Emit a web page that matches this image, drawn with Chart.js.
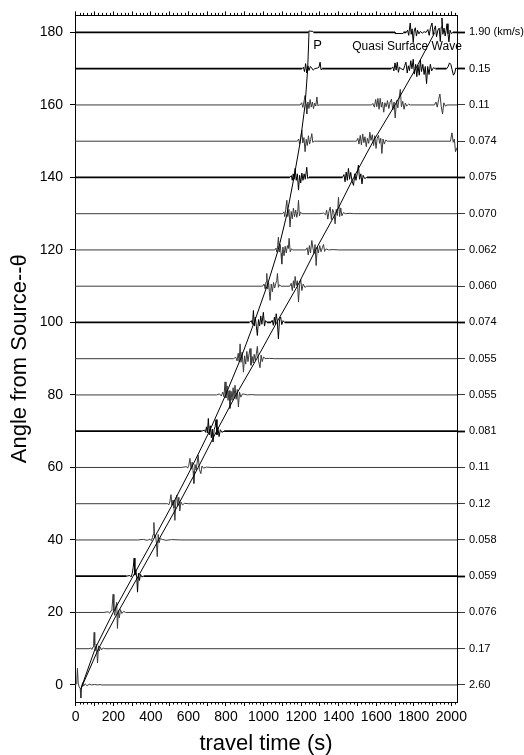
<!DOCTYPE html>
<html>
<head>
<meta charset="utf-8">
<title>Seismogram section</title>
<script src="https://cdn.jsdelivr.net/npm/chart.js@4.4.0/dist/chart.umd.min.js"></script>
<style>
  html, body { margin: 0; padding: 0; background: #fff; }
  #wrap { width: 524px; height: 755px; }
</style>
</head>
<body>
<div id="wrap"><canvas id="sectionChart"></canvas></div>
<script>
// Trace distances (degrees from source)
const angles = [0, 10, 20, 30, 40, 50, 60, 70, 80, 90, 100, 110, 120, 130, 140, 150, 160, 170, 180];

// Peak amplitude written at the right end of each trace
const ampLabels = ['2.60', '0.17', '0.076', '0.059', '0.058', '0.12', '0.11', '0.081', '0.055', '0.055',
                   '0.074', '0.060', '0.062', '0.070', '0.075', '0.074', '0.11', '0.15', '1.90 (km/s)'];

// Tick labels
const angleTicks = [0, 20, 40, 60, 80, 100, 120, 140, 160, 180];
const timeTicks = [0, 200, 400, 600, 800, 1000, 1200, 1400, 1600, 1800, 2000];

// Travel-time curves (P and quasi surface wave)
const curveAngles = [-1, 10, 20, 30, 40, 50, 60, 70, 80, 90, 100, 110, 120, 130, 140, 150, 160, 170, 180];
const pTimes = [28, 103, 199, 305, 412, 517, 617, 712, 798, 878, 950, 1018, 1078, 1125, 1162, 1196, 1221, 1235, 1242];
const sTimes = [28, 121, 224, 333, 441, 549, 652, 750, 853, 964, 1070, 1180, 1277, 1383, 1480, 1584, 1700, 1810, 1912];

// Wiggles: [travel time (s), deflection (deg)] per trace
const trace0 = [[-4,0],[0,0],[5,0.3],[9,4.6],[13,0.5],[18,-0.5],[24,-1],[27,-3.6],[31,-0.8],[36,0.6],[42,-0.3],[50,0.3],[60,-0.2],[72,0.2],[85,0],[100,0.15],[115,0],[130,0.1],[140,0],[2030,0]];
const trace10 = [[-4,0],[70,0],[80,0.2],[86,-0.2],[92,0.5],[95,1.5],[98,4.5],[101,1],[105,-0.5],[110,1.2],[116,-3.9],[121,0.8],[126,-0.6],[131,0.4],[138,-0.3],[146,0.2],[155,0],[2030,0]];
const trace20 = [[-4,0],[150,0],[172,0.2],[180,-0.2],[188,0.5],[193,1.2],[199,5],[203,0.5],[208,-0.8],[213,1.5],[218,2.8],[222,-4.4],[227,0.5],[232,-1.5],[238,0.8],[245,-0.3],[255,0.3],[265,0],[2030,0]];
const trace30 = [[-4,0],[270,0],[288,0.2],[295,-0.2],[301,0.8],[306,2.5],[311,5],[315,0.3],[320,1.8],[325,-0.5],[329,-4.4],[334,0.8],[339,-1.2],[345,0.5],[352,-0.2],[362,0],[2030,0]];
const trace40 = [[-4,0],[330,0],[360,0.15],[380,-0.1],[395,0.2],[402,-0.2],[408,0.6],[412,1.5],[416,4.8],[420,0.5],[425,1.2],[430,-1],[434,-4.6],[439,1.5],[444,-0.8],[450,0.4],[460,0.15],[480,-0.1],[510,0.1],[560,0],[2030,0]];
const trace50 = [[-4,0],[490,0],[496,-0.3],[501,0.5],[507,2.5],[512,-0.5],[518,1],[523,-1.2],[528,-4.6],[533,1],[538,2.4],[543,-0.6],[549,1.8],[554,-2],[560,0.5],[568,-0.3],[580,0.1],[600,0],[2030,0]];
const trace60 = [[-4,0],[560,0],[590,0.2],[596,-0.2],[602,0.6],[608,2.5],[614,-0.5],[620,1.5],[625,-1],[629,-4.4],[635,0.8],[641,-0.7],[646,1.2],[652,3.4],[658,-0.5],[666,-1.7],[672,0.4],[680,-0.2],[695,0.1],[720,0],[2030,0]];
const trace70 = [[-4,0],[670,0],[686,0.3],[691,-0.3],[696,1.2],[701,-0.5],[706,3.5],[711,-1],[716,1.5],[722,-1.8],[727,0.6],[731,-3],[737,0.5],[742,1.2],[747,3.2],[752,-1],[757,1],[763,-1.5],[770,0.4],[778,-0.3],[790,0],[2030,0]];
const trace80 = [[-4,0],[750,0],[765,0.3],[775,-0.3],[783,0.8],[789,-0.5],[795,3.6],[800,-0.8],[806,2.5],[811,-1.5],[816,1.2],[821,-3.7],[827,1],[832,-1.5],[838,2],[843,-1],[848,2.7],[854,-1.2],[860,1.5],[866,-3.3],[872,0.8],[879,-0.6],[888,0.3],[900,0.15],[915,0],[935,0.1],[960,0],[2030,0]];
const trace90 = [[-4,0],[840,0],[852,0.4],[859,-0.6],[865,1.5],[870,-0.8],[875,4.1],[880,-1],[886,1.8],[893,-3.7],[899,0.8],[905,-1.5],[911,2],[917,-0.8],[922,1],[928,2.8],[933,-1.8],[939,0.6],[945,-1.2],[950,1.2],[956,-0.5],[962,1.5],[967,3.4],[973,-0.6],[981,-2.5],[987,1],[993,-0.8],[1000,0.5],[1008,0],[1030,0.1],[1060,0],[2030,0]];
const trace100 = [[-4,0],[925,0],[935,0.5],[941,-0.5],[946,3.3],[951,-1],[956,1.5],[962,-1.2],[967,-3.6],[973,0.8],[979,-1],[985,1.8],[991,-0.5],[999,2.8],[1005,-1],[1011,0.5],[1018,0],[1040,0],[1046,0.6],[1052,-0.8],[1058,1.5],[1063,-0.5],[1067,2.4],[1073,0.5],[1079,-4.5],[1085,0.8],[1091,1.5],[1097,-0.6],[1104,0.5],[1112,0],[2030,0]];
const trace110 = [[-4,0],[995,0],[1003,0.6],[1009,-0.8],[1013,1.2],[1017,3.5],[1022,-0.8],[1027,1],[1031,-1.5],[1035,-3.9],[1041,0.6],[1047,-1.5],[1053,1],[1059,-0.5],[1065,0.8],[1070,1.5],[1074,3.5],[1079,-0.3],[1085,0.4],[1092,0],[1140,0],[1147,0.8],[1153,-1.2],[1159,1.5],[1164,-0.5],[1168,2.7],[1174,0.2],[1180,1.5],[1186,-4.3],[1192,0.5],[1198,1.8],[1204,-1.2],[1211,0.6],[1220,-0.3],[1230,0],[2030,0]];
const trace120 = [[-4,0],[1060,0],[1066,0.5],[1071,-0.6],[1075,1.2],[1079,3.5],[1084,-0.6],[1089,1.5],[1093,-1],[1097,-3.9],[1103,0.8],[1109,-1.6],[1115,1],[1121,-0.8],[1127,1.2],[1132,0.4],[1136,3.2],[1142,-0.5],[1149,0.3],[1156,0],[1225,0],[1232,0.6],[1238,-1.4],[1244,1.2],[1250,-0.8],[1257,2.6],[1263,0.5],[1269,-1],[1274,1.5],[1280,-4.3],[1286,0.8],[1292,-0.8],[1299,1.2],[1306,-0.5],[1313,0.6],[1319,1.5],[1325,-0.4],[1333,0.3],[1345,0],[1370,0.1],[1400,0],[2030,0]];
const trace130 = [[-4,0],[1100,0],[1108,0.5],[1113,-0.8],[1118,1.2],[1124,3.7],[1129,-0.8],[1135,1.2],[1141,-3.7],[1147,0.6],[1153,-1.4],[1159,1.5],[1165,-0.8],[1171,1],[1177,-1],[1182,0.6],[1186,3.7],[1191,-0.6],[1197,0.4],[1205,0],[1300,0],[1320,0.15],[1330,-0.3],[1336,1],[1342,-1.5],[1348,0.5],[1355,1.8],[1361,-1.6],[1368,1.2],[1374,0.3],[1381,-2.8],[1387,1.2],[1393,-0.5],[1399,4.5],[1405,-0.8],[1411,1.6],[1417,-0.6],[1425,0.3],[1435,0],[1460,0.1],[1480,0],[2030,0]];
const trace140 = [[-4,0],[1140,0],[1148,0.5],[1153,-0.8],[1158,1],[1163,-0.5],[1168,2.5],[1174,-0.8],[1180,1],[1186,-3.5],[1192,0.6],[1198,-1.5],[1204,1.2],[1210,-0.8],[1216,1],[1222,-0.5],[1230,2.8],[1235,-0.3],[1242,0],[1420,0],[1428,0.8],[1434,-1.2],[1440,1.5],[1446,-0.8],[1452,2.5],[1458,-0.5],[1464,1.4],[1471,-1],[1479,-2.2],[1486,1],[1492,-0.8],[1499,1.2],[1505,3.4],[1511,-0.5],[1518,1],[1524,-1.8],[1530,0.6],[1538,-0.3],[1550,0],[2030,0]];
const trace150 = [[-4,0],[1180,0],[1187,0.6],[1192,-0.8],[1198,1],[1204,3],[1209,-0.5],[1215,1],[1221,-2.9],[1227,0.5],[1233,-1.2],[1239,1.5],[1245,-0.8],[1251,0.5],[1257,2.1],[1262,-0.3],[1270,0],[1495,0],[1502,0.8],[1508,-0.8],[1515,1.6],[1521,-1],[1528,2],[1534,-0.4],[1540,1.2],[1547,-1.5],[1553,0.8],[1560,-0.6],[1566,2.5],[1572,0.2],[1579,1.8],[1586,-1.2],[1592,1.5],[1599,-2],[1605,0.8],[1612,1.6],[1618,-0.6],[1624,0.8],[1630,-3.4],[1636,0.6],[1643,-0.8],[1650,0.3],[1660,0],[1995,0],[2003,2.3],[2010,-0.3],[2016,0.6],[2022,-2.9],[2030,-1.8]];
const trace160 = [[-4,0],[1195,0],[1203,0.6],[1209,-0.7],[1215,0.8],[1221,2.6],[1226,0.2],[1230,-2.5],[1236,0.8],[1242,-1],[1248,1.5],[1254,-0.6],[1260,0.8],[1266,-1],[1272,0.5],[1278,-0.3],[1284,2.2],[1289,-0.2],[1296,0],[1575,0],[1582,0.4],[1590,-0.6],[1597,1.5],[1603,-0.5],[1609,1.8],[1615,-1.2],[1621,1.8],[1627,-0.6],[1633,0.8],[1640,-2],[1646,0.6],[1653,-0.5],[1660,1.2],[1667,-1],[1674,0.8],[1681,1.6],[1688,-1.4],[1695,0.8],[1701,-3.6],[1708,1.2],[1715,-0.8],[1721,1.6],[1728,4.3],[1734,-0.5],[1741,1],[1748,-1.2],[1755,0.5],[1762,-0.3],[1772,0.2],[1781,0],[1910,0],[1918,0.8],[1925,-0.6],[1932,1.5],[1939,3],[1946,-0.4],[1953,-2.5],[1960,0.6],[1968,-0.3],[1977,0],[2030,0]];
const trace170 = [[-4,0],[1205,0],[1212,0.4],[1218,-0.8],[1224,1.4],[1230,-1.2],[1236,0.8],[1242,-0.5],[1249,0.6],[1256,0.2],[1264,-0.4],[1272,0],[1288,0.2],[1295,0.4],[1301,1.8],[1306,-0.3],[1312,0],[1680,0],[1688,0.5],[1694,-0.6],[1700,1.6],[1706,-0.4],[1712,1.8],[1718,-1],[1724,0.4],[1732,0],[1745,-0.3],[1752,0.9],[1758,1.8],[1765,-1.2],[1771,0.8],[1777,-0.5],[1784,2.2],[1790,0],[1797,2.6],[1803,-1.5],[1810,1.2],[1816,-2.2],[1822,1],[1829,-1.8],[1835,2.4],[1841,-0.8],[1848,1.2],[1855,-1.6],[1861,0.6],[1868,-4.1],[1874,0.6],[1881,-1.6],[1888,1.2],[1895,-0.6],[1905,0.3],[1915,0],[1975,0],[1983,0.6],[1990,1.6],[1997,1.2],[2004,-0.3],[2011,-1.8],[2018,-1.2],[2024,0.2],[2030,0]];
const trace180 = [[-4,0],[1238,0],[1241,0.4],[1262,0.3],[1266,0],[1700,0],[1702,-0.3],[1742,-0.3],[1745,0],[1760,0],[1767,0.6],[1773,-0.8],[1778,1.5],[1781,2.6],[1786,-0.5],[1791,1],[1797,-2.8],[1802,0.4],[1808,1.3],[1814,-1],[1820,0.6],[1827,-0.4],[1835,0.3],[1845,-0.2],[1855,0.2],[1865,0],[1875,0.8],[1882,-0.8],[1889,1.4],[1897,2.6],[1903,-0.6],[1909,0.8],[1915,1.8],[1921,-1.2],[1928,0.6],[1935,1.2],[1941,-2.5],[1946,1.5],[1950,4],[1955,-0.5],[1961,1.2],[1967,-1],[1972,0.5],[1977,2.4],[1982,-0.4],[1987,-2.6],[1993,0.6],[2000,-0.3],[2008,0],[2030,0]];

const traces = [trace0, trace10, trace20, trace30, trace40, trace50, trace60, trace70, trace80, trace90,
                trace100, trace110, trace120, trace130, trace140, trace150, trace160, trace170, trace180];

// Style
const FONT = "'Liberation Sans', Arial, Helvetica, sans-serif";
const boldAngles = [30, 70, 100, 140, 170, 180];
const isBold = a => boldAngles.includes(a);
const BASE_BOLD = 1.8, BASE_THIN = 1, WIGGLE_W = 1;

const X_MIN = -4, X_MAX = 2030;
const Y_MIN = -4.7, Y_MAX = 184.7;

// Short ticks every 20 s on the top and bottom frame
const minorTicks = {
    id: 'minorTicks',
    afterDraw(chart) {
        const { ctx, chartArea, scales: { x } } = chart;
        ctx.save();
        ctx.strokeStyle = '#000';
        ctx.lineWidth = 1;
        ctx.beginPath();
        for (let t = 0; t <= 2020; t += 20) {
            if (t % 100 === 0) continue;
            const px = Math.round(x.getPixelForValue(t)) + 0.5;
            ctx.moveTo(px, chartArea.bottom);
            ctx.lineTo(px, chartArea.bottom + 2.5);
            ctx.moveTo(px, chartArea.top);
            ctx.lineTo(px, chartArea.top - 2.5);
        }
        ctx.stroke();
        ctx.restore();
    }
};

// Phase names
const phaseLabels = {
    id: 'phaseLabels',
    afterDatasetsDraw(chart) {
        const { ctx, scales: { x, y } } = chart;
        ctx.save();
        ctx.fillStyle = '#000';
        ctx.textBaseline = 'middle';
        ctx.textAlign = 'left';
        ctx.font = '13px ' + FONT;
        ctx.fillText('P', x.getPixelForValue(1264), y.getPixelForValue(176.3));
        ctx.font = '12px ' + FONT;
        ctx.fillText('Quasi Surface Wave', x.getPixelForValue(1472), y.getPixelForValue(176.1));
        ctx.restore();
    }
};

const traceSets = angles.map((a, i) => ({
    label: a + '°',
    data: traces[i].map(p => ({ x: p[0], y: a + p[1] })),
    borderColor: isBold(a) ? '#000' : '#3a3a3a',
    borderWidth: WIGGLE_W,
    segment: {
        // flat stretches of the bold traces are drawn heavier
        borderWidth: c => (c.p0.parsed.y === a && c.p1.parsed.y === a
            ? (isBold(a) ? BASE_BOLD : BASE_THIN) : WIGGLE_W)
    },
    pointRadius: 0,
    tension: 0
}));

const curveSets = [pTimes, sTimes].map((times, i) => ({
    label: i === 0 ? 'P' : 'Quasi Surface Wave',
    data: times.map((t, j) => ({ x: t, y: curveAngles[j] })),
    borderColor: '#000',
    borderWidth: 1,
    pointRadius: 0,
    tension: 0
}));

new Chart(document.getElementById('sectionChart'), {
    type: 'line',
    data: { datasets: [...curveSets, ...traceSets] },
    options: {
        responsive: true,
        maintainAspectRatio: false,
        animation: false,
        layout: { padding: 0 },
        plugins: {
            legend: { display: false },
            tooltip: { enabled: false }
        },
        scales: {
            x: {
                type: 'linear',
                position: 'bottom',
                min: X_MIN,
                max: X_MAX,
                afterBuildTicks: s => {
                    const out = [];
                    for (let v = 0; v <= 2000; v += 100) out.push({ value: v });
                    s.ticks = out;
                },
                ticks: {
                    autoSkip: false,
                    maxRotation: 0,
                    padding: 3,
                    color: '#000',
                    font: { family: FONT, size: 14 },
                    callback: v => (timeTicks.includes(v) ? String(v) : '')
                },
                grid: { drawOnChartArea: false, tickLength: 4, color: '#000' },
                border: { color: '#000', width: 1 },
                title: {
                    display: true,
                    text: 'travel time (s)',
                    color: '#000',
                    font: { family: FONT, size: 22, lineHeight: 1 },
                    padding: 0
                },
                afterFit: s => { s.height = 53; }
            },
            xTop: {
                type: 'linear',
                position: 'top',
                min: X_MIN,
                max: X_MAX,
                afterBuildTicks: s => {
                    const out = [];
                    for (let v = 0; v <= 2000; v += 100) out.push({ value: v });
                    s.ticks = out;
                },
                ticks: { display: false },
                grid: { drawOnChartArea: false, tickLength: 4, color: '#000' },
                border: { color: '#000', width: 1 },
                afterFit: s => { s.height = 15; }
            },
            y: {
                type: 'linear',
                position: 'left',
                min: Y_MIN,
                max: Y_MAX,
                afterBuildTicks: s => { s.ticks = angleTicks.map(v => ({ value: v })); },
                ticks: {
                    autoSkip: false,
                    padding: 7,
                    color: '#000',
                    font: { family: FONT, size: 14 }
                },
                grid: { drawOnChartArea: false, tickLength: 5, color: '#000' },
                border: { color: '#000', width: 1 },
                title: {
                    display: true,
                    text: 'Angle from Source--θ',
                    color: '#000',
                    font: { family: FONT, size: 22, lineHeight: 1 },
                    padding: { top: 9, bottom: 0 }
                },
                afterFit: s => { s.width = 75; }
            },
            yRight: {
                type: 'linear',
                position: 'right',
                min: Y_MIN,
                max: Y_MAX,
                afterBuildTicks: s => { s.ticks = angles.map(v => ({ value: v })); },
                ticks: {
                    autoSkip: false,
                    padding: 4,
                    color: '#000',
                    font: { family: FONT, size: 11 },
                    callback: (v, i) => ampLabels[i]
                },
                grid: {
                    drawOnChartArea: false,
                    tickLength: 8,
                    tickColor: c => (isBold(c.tick.value) ? '#000' : '#3a3a3a'),
                    tickWidth: c => (isBold(c.tick.value) ? BASE_BOLD : BASE_THIN)
                },
                border: { color: '#000', width: 1 },
                afterFit: s => { s.width = 67; }
            }
        }
    },
    plugins: [minorTicks, phaseLabels]
});
</script>
</body>
</html>
